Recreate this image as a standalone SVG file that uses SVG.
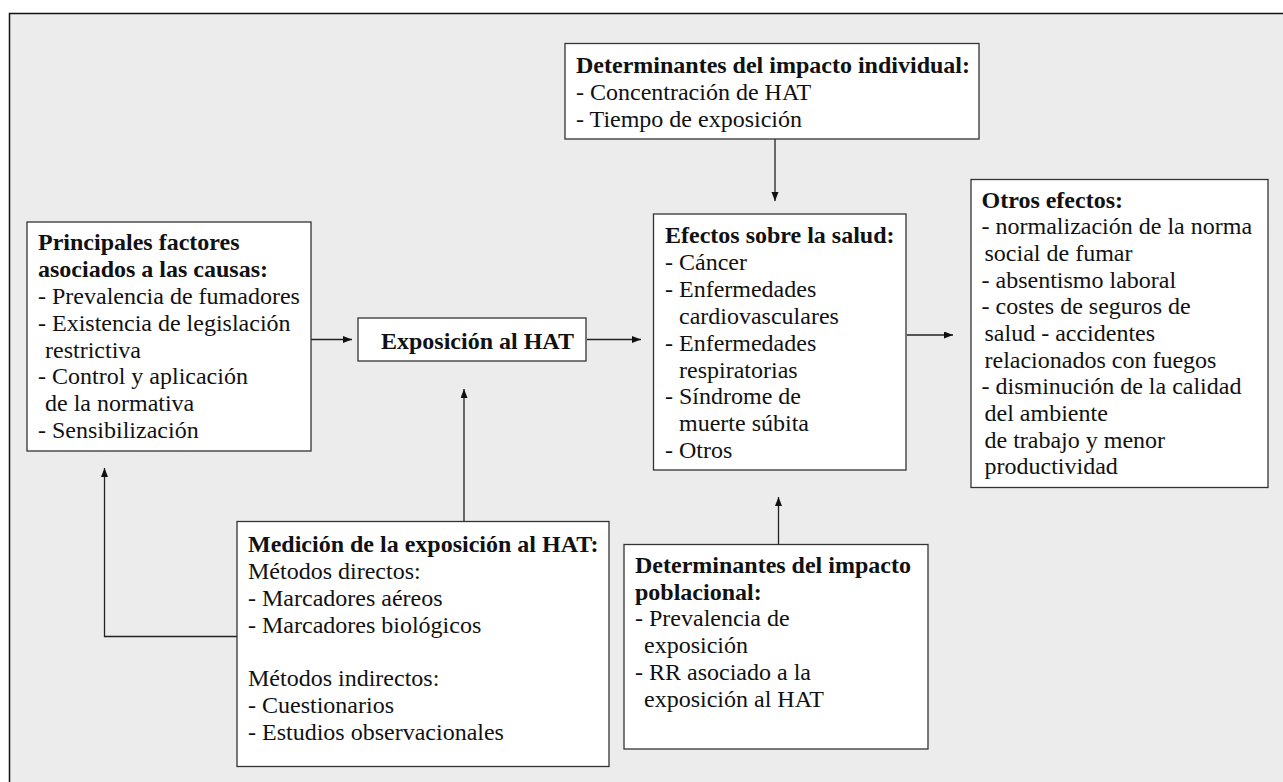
<svg xmlns="http://www.w3.org/2000/svg" width="1283" height="782" viewBox="0 0 1283 782">
<style>
.bg{fill:#ececec}
.frame{stroke:#111;stroke-width:1.5;fill:none}
.box{fill:#fff;stroke:#333;stroke-width:1.3}
text{font-family:"Liberation Serif","Times New Roman",serif;font-size:24px;fill:#111}
.b{font-weight:bold}
.con{stroke:#222;stroke-width:1.3;fill:none}
</style>
<defs>
<marker id="arr" markerUnits="userSpaceOnUse" markerWidth="10" markerHeight="8" refX="9" refY="3.5" orient="auto">
<path d="M0,0 L9,3.5 L0,7 z" fill="#111"/>
</marker>
</defs>
<rect class="bg" x="9" y="13" width="1280" height="775"/>
<path class="frame" d="M9.5,782 V13.5 H1283"/>
<g id="connectors">
<line class="con" x1="311" y1="339.5" x2="352" y2="339.5" marker-end="url(#arr)"/>
<line class="con" x1="587" y1="339.5" x2="641" y2="339.5" marker-end="url(#arr)"/>
<line class="con" x1="464" y1="521" x2="464" y2="389" marker-end="url(#arr)"/>
<path class="con" d="M237,636.5 H104.5 V468" marker-end="url(#arr)"/>
<line class="con" x1="775" y1="139" x2="775" y2="201" marker-end="url(#arr)"/>
<line class="con" x1="778.5" y1="544" x2="778.5" y2="497" marker-end="url(#arr)"/>
<line class="con" x1="907" y1="335" x2="953" y2="335" marker-end="url(#arr)"/>
</g>
<g id="principales">
<rect class="box" x="27" y="222" width="284" height="229"/>
<text class="b" x="38" y="250">Principales factores</text>
<text class="b" x="38" y="277">asociados a las causas:</text>
<text x="38" y="304">- Prevalencia de fumadores</text>
<text x="38" y="331">- Existencia de legislación</text>
<text x="45" y="357.5">restrictiva</text>
<text x="38" y="384">- Control y aplicación</text>
<text x="45" y="411">de la normativa</text>
<text x="38" y="438">- Sensibilización</text>
</g>
<g id="exposicion">
<rect class="box" x="358" y="318" width="228" height="43"/>
<text class="b" x="381" y="348.5">Exposición al HAT</text>
</g>
<g id="det-individual">
<rect class="box" x="565" y="43.5" width="414" height="95.5"/>
<text class="b" x="576" y="73">Determinantes del impacto individual:</text>
<text x="576" y="100">- Concentración de HAT</text>
<text x="576" y="127">- Tiempo de exposición</text>
</g>
<g id="efectos">
<rect class="box" x="653.5" y="214" width="252.5" height="256"/>
<text class="b" x="665" y="243">Efectos sobre la salud:</text>
<text x="665" y="270">- Cáncer</text>
<text x="665" y="297">- Enfermedades</text>
<text x="679" y="324">cardiovasculares</text>
<text x="665" y="350.5">- Enfermedades</text>
<text x="679" y="377.5">respiratorias</text>
<text x="665" y="404">- Síndrome de</text>
<text x="679" y="431">muerte súbita</text>
<text x="665" y="458">- Otros</text>
</g>
<g id="otros">
<rect class="box" x="971" y="179.5" width="297" height="308"/>
<text class="b" x="981.5" y="207.5">Otros efectos:</text>
<text x="981.5" y="234">- normalización de la norma</text>
<text x="984.5" y="260.5">social de fumar</text>
<text x="981.5" y="287.5">- absentismo laboral</text>
<text x="981.5" y="314">- costes de seguros de</text>
<text x="984.5" y="341">salud - accidentes</text>
<text x="984.5" y="367.5">relacionados con fuegos</text>
<text x="981.5" y="394">- disminución de la calidad</text>
<text x="984.5" y="421">del ambiente</text>
<text x="984.5" y="447.5">de trabajo y menor</text>
<text x="984.5" y="474">productividad</text>
</g>
<g id="medicion">
<rect class="box" x="237" y="521.5" width="372" height="245"/>
<text class="b" x="248" y="552">Medición de la exposición al HAT:</text>
<text x="248" y="579">Métodos directos:</text>
<text x="248" y="605.5">- Marcadores aéreos</text>
<text x="248" y="632.5">- Marcadores biológicos</text>
<text x="248" y="686">Métodos indirectos:</text>
<text x="248" y="712.5">- Cuestionarios</text>
<text x="248" y="739.5">- Estudios observacionales</text>
</g>
<g id="det-poblacional">
<rect class="box" x="624" y="544.5" width="304" height="204.5"/>
<text class="b" x="635" y="573">Determinantes del impacto</text>
<text class="b" x="635" y="599.5">poblacional:</text>
<text x="635" y="626">- Prevalencia de</text>
<text x="644" y="653">exposición</text>
<text x="635" y="680">- RR asociado a la</text>
<text x="644" y="706.5">exposición al HAT</text>
</g>
</svg>
